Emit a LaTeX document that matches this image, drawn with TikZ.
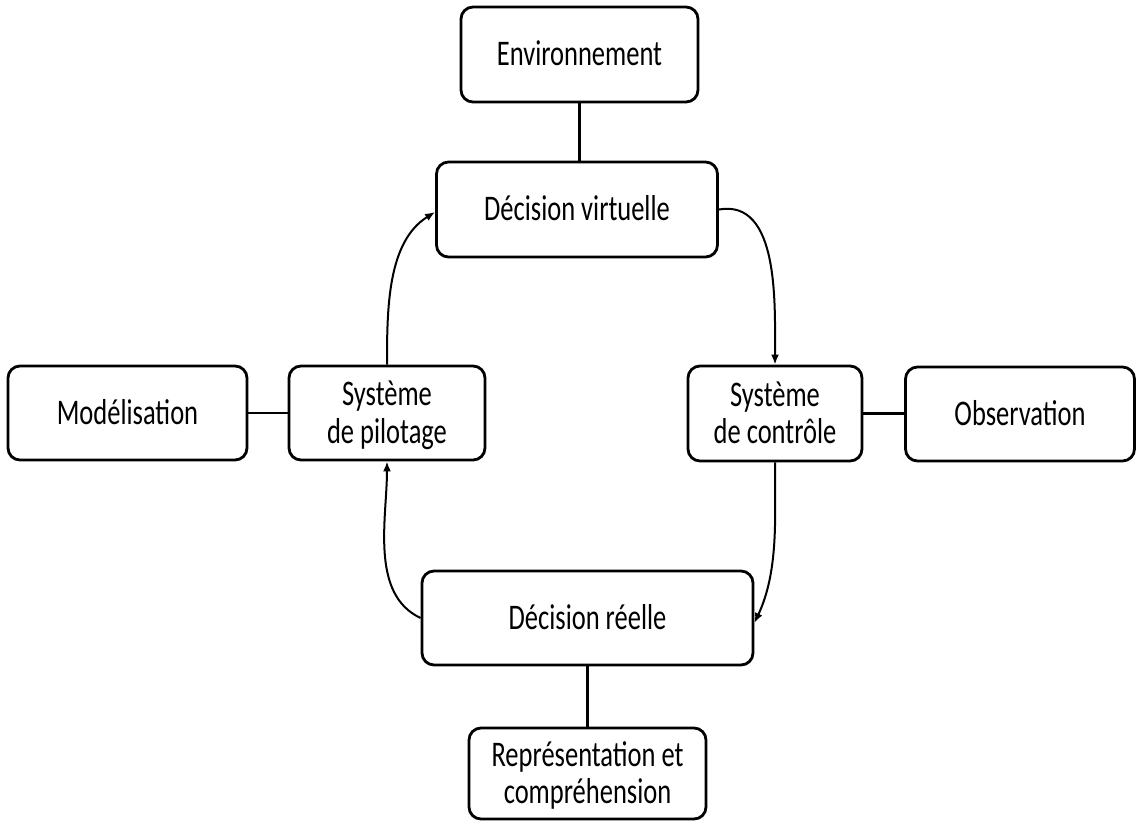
\documentclass[tikz,border=0pt]{standalone}
\usepackage{fontspec}
\setmainfont{Carlito}
\usetikzlibrary{arrows.meta}
\newcommand{\lbl}[1]{\raisebox{-4pt}[\height][\depth]{\scalebox{1}[1.36]{\begin{tabular}{@{}c@{}}#1\end{tabular}}}}
\tikzset{
  box/.style={draw, line width=2.8pt, rounded corners=12pt, inner sep=0pt,
    font=\fontsize{26.5}{27.5}\selectfont, align=center},
  link/.style={line width=2.1pt},
  flow/.style={line width=2pt, -{Latex[length=10pt,width=8pt]}}
}
\begin{document}
\begin{tikzpicture}[x=1pt,y=-1pt]
\useasboundingbox (0,0) rectangle (1137,823);
\node[box, minimum width=237, minimum height=95] (env) at (579.5,54.5) {\lbl{Environnement}};
\node[box, minimum width=281, minimum height=95] (dv) at (577,209.5) {\lbl{Décision virtuelle}};
\node[box, minimum width=196, minimum height=94] (pil) at (387,413) {\lbl{Système\\de pilotage}};
\node[box, minimum width=239, minimum height=94] (mod) at (127.5,413) {\lbl{Modélisation}};
\node[box, minimum width=174, minimum height=95] (ctl) at (775,413.5) {\lbl{Système\\de contrôle}};
\node[box, minimum width=229, minimum height=94] (obs) at (1020,414) {\lbl{Observation}};
\node[box, minimum width=331, minimum height=94] (dr) at (587.5,618) {\lbl{Décision réelle}};
\node[box, minimum width=237, minimum height=91] (rep) at (587.5,773.5) {\lbl{Représentation et\\compréhension}};

\draw[link] (dv.north -| env.south) -- (env.south);
\draw[link] (pil.west) -- (mod.east);
\draw[link] (ctl.east) -- (ctl.east -| obs.west);
\draw[link] (dr.south) -- (rep.north);

\draw[flow] (pil.north) to[out=90, in=212, looseness=0.9] ([yshift=-2.5]dv.west);
\draw[flow] (dv.east) to[out=10, in=90, looseness=0.95] (ctl.north);
\draw[flow] (ctl.south) to[out=-90, in=65, looseness=0.9] ([yshift=-5]dr.east);
\draw[flow] (dr.west) to[out=155, in=-90, looseness=0.9] (pil.south);
\end{tikzpicture}
\end{document}
